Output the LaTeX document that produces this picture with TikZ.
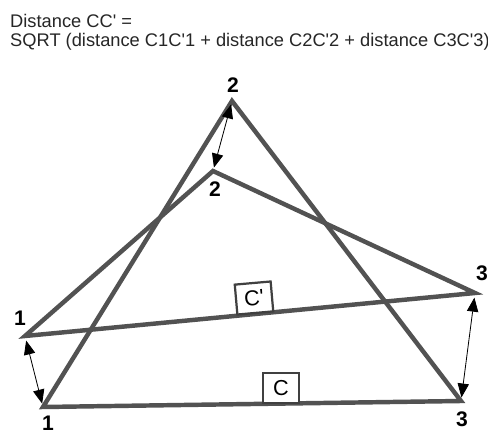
\documentclass[tikz,border=0pt]{standalone}
\usepackage{fontspec}
\setmainfont{Liberation Sans}
\usetikzlibrary{arrows.meta,positioning,calc}

\newcommand{\sq}{\textquotesingle}

\begin{document}
\begin{tikzpicture}[x=0.03cm, y=-0.03cm,
  side/.style={line width=3.8pt, draw=black!68, line join=miter},
  gap/.style={{Triangle[length=0.42cm, width=0.34cm]}-{Triangle[length=0.42cm, width=0.34cm]}, line width=0.7pt, black},
  vlabel/.style={font=\fontsize{18}{20}\selectfont\bfseries, inner sep=0pt},
  tag/.style={draw=black!75, line width=1.9pt, fill=white, font=\fontsize{18.5}{20}\selectfont, minimum width=1.08cm, minimum height=0.9cm, inner sep=0pt},
  head/.style={anchor=base west, inner sep=0pt, font=\fontsize{15.6}{18}\selectfont, text=black!85}]
  \useasboundingbox (0,0) rectangle (488,433);

  \node[head] (head1) at (10,28) {Distance CC\sq{} =};
  \node[head] (head2) at (10,47) {SQRT (distance C1C\sq1 + distance C2C\sq2 + distance C3C\sq3)};

  % triangle C
  \coordinate (c1) at (43,407);
  \coordinate (c2) at (232,101);
  \coordinate (c3) at (461,401);
  % triangle C'
  \coordinate (cp1) at (25,336);
  \coordinate (cp2) at (213,171);
  \coordinate (cp3) at (475,293);

  \draw[side] (c1) -- (c2) -- (c3) -- cycle;
  \draw[side] (cp1) -- (cp2) -- (cp3) -- cycle;

  % distances between matching corners
  \draw[gap, shorten <=3pt, shorten >=3pt] (c2) -- (cp2);
  \draw[gap, shorten <=4pt, shorten >=3pt] (cp1) -- (c1);
  \draw[gap, shorten <=4pt, shorten >=3pt] (cp3) -- (c3);

  % corner numbers
  \node[vlabel] (l2) at (233,85) {2};
  \node[vlabel] (lp2) at (215,189) {2};
  \node[vlabel] (lp1) at (20,318) {1};
  \node[vlabel] (l1) at (48,423) {1};
  \node[vlabel] (lp3) at (482,273) {3};
  \node[vlabel] (l3) at (462,419) {3};

  % triangle names
  \node[tag, rotate=5] (namecp) at (254,298) {C\sq};
  \node[tag] (namec) at (281,388) {C};
\end{tikzpicture}
\end{document}
